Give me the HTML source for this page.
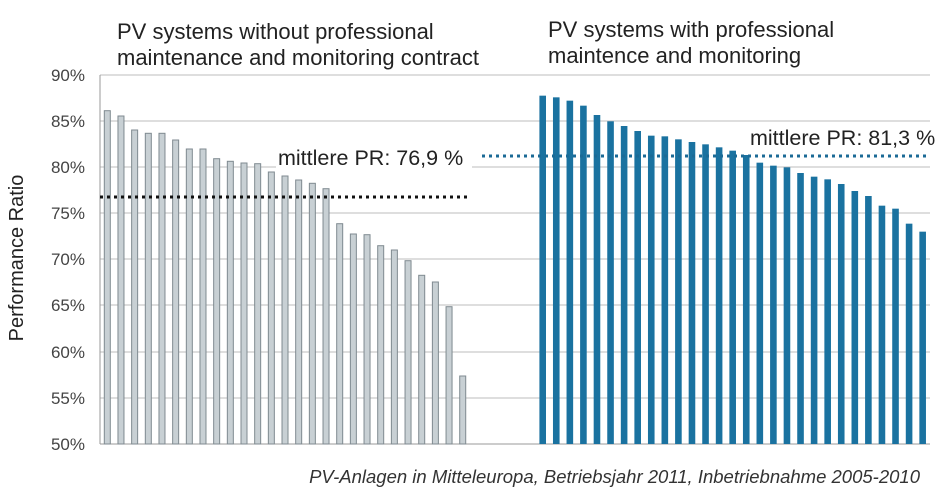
<!DOCTYPE html>
<html><head><style>body{margin:0;background:#fff}</style></head><body>
<svg width="948" height="496" xmlns="http://www.w3.org/2000/svg" font-family="Liberation Sans, sans-serif">
<rect width="948" height="496" fill="#fff"/>
<g stroke="#bdbdbd" stroke-width="1">
<line x1="100" y1="75" x2="930" y2="75"/><line x1="100" y1="121" x2="930" y2="121"/><line x1="100" y1="167" x2="930" y2="167"/><line x1="100" y1="213" x2="930" y2="213"/><line x1="100" y1="259" x2="930" y2="259"/><line x1="100" y1="305" x2="930" y2="305"/><line x1="100" y1="352" x2="930" y2="352"/><line x1="100" y1="398" x2="930" y2="398"/>
</g>
<line x1="100" y1="444" x2="930" y2="444" stroke="#999"/>
<line x1="100" y1="75" x2="100" y2="444" stroke="#999"/>
<g font-size="17" fill="#444" text-anchor="end">
<text x="85" y="81">90%</text><text x="85" y="127">85%</text><text x="85" y="173">80%</text><text x="85" y="219">75%</text><text x="85" y="265">70%</text><text x="85" y="311">65%</text><text x="85" y="358">60%</text><text x="85" y="404">55%</text><text x="85" y="450">50%</text>
</g>
<text transform="translate(23,258) rotate(-90)" font-size="20" fill="#222" text-anchor="middle">Performance Ratio</text>
<g id="L" fill="#c8d0d4" stroke="#7f8a90" stroke-width="1"></g>
<g id="R" fill="#1a72a0"></g>
<line x1="100" y1="197" x2="468" y2="197" stroke="#111" stroke-width="3" stroke-dasharray="3,4"/>
<line x1="482" y1="156" x2="928" y2="156" stroke="#1b6a96" stroke-width="3" stroke-dasharray="3,4"/>
<rect x="276" y="142" width="196" height="28" fill="#fff"/>
<text x="278" y="165" font-size="21.5" fill="#222">mittlere PR: 76,9 %</text>
<rect x="748" y="122" width="180" height="28" fill="#fff"/>
<text x="750" y="145" font-size="21.5" fill="#222">mittlere PR: 81,3 %</text>
<g font-size="22" fill="#222">
<text x="117" y="39">PV systems without professional</text>
<text x="117" y="65">maintenance and monitoring contract</text>
<text x="548" y="37">PV systems with professional</text>
<text x="548" y="63">maintence and monitoring</text>
</g>
<text x="920" y="483" font-size="18.5" font-style="italic" fill="#333" text-anchor="end">PV-Anlagen in Mitteleuropa, Betriebsjahr 2011, Inbetriebnahme 2005-2010</text>
<script>
var ns="http://www.w3.org/2000/svg";
var L=[110.7,116,130,133.3,133.3,140,149,149,158.7,161.3,163,163.7,172,176,180,183.3,188.7,223.7,234,234.7,245.7,250,260.7,275.3,282,306.7,376];
var g=document.getElementById("L");
L.forEach(function(y,i){var r=document.createElementNS(ns,"rect");var cx=107.3+i*13.67;r.setAttribute("x",cx-3);r.setAttribute("y",y);r.setAttribute("width",6);r.setAttribute("height",444-y);g.appendChild(r);});
var R=[32,37,47,62,90,109,123,138,152,154,163,171,178,187,197,210,233,242,247,264,275,283,297,318,333,362,371,416,440];
var h=document.getElementById("R");
R.forEach(function(z,i){var y=85+z/3;var r=document.createElementNS(ns,"rect");var cx=542.7+i*13.57;r.setAttribute("x",cx-3.3);r.setAttribute("y",y);r.setAttribute("width",6.6);r.setAttribute("height",444-y);h.appendChild(r);});
</script>
</svg>
</body></html>
